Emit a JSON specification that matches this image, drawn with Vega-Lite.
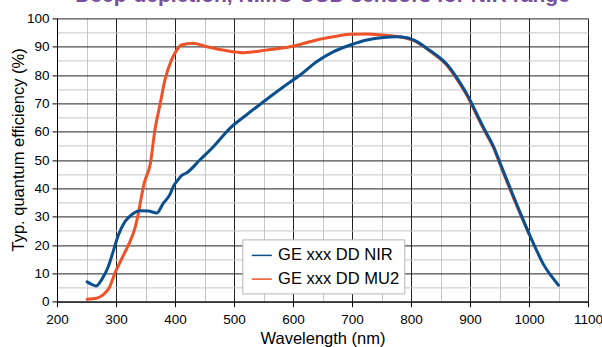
{
  "$schema": "https://vega.github.io/schema/vega-lite/v6.json",
  "width": 531,
  "height": 283.3,
  "autosize": {"type": "none"},
  "padding": {"left": 57, "top": 18.4, "right": 14, "bottom": 45.3},
  "background": "white",
  "title": {
    "text": "Deep-depletion, NIMO CCD sensors for NIR range",
    "font": "Liberation Sans",
    "fontSize": 21,
    "fontWeight": "bold",
    "color": "#7A4E9E",
    "anchor": "middle",
    "frame": "group",
    "baseline": "alphabetic",
    "offset": -12
  },
  "data": {
    "values": [
      {"series": "GE xxx DD NIR", "wavelength": 251, "qe": 7.0},
      {"series": "GE xxx DD NIR", "wavelength": 258, "qe": 6.2},
      {"series": "GE xxx DD NIR", "wavelength": 266, "qe": 5.5},
      {"series": "GE xxx DD NIR", "wavelength": 276, "qe": 7.9},
      {"series": "GE xxx DD NIR", "wavelength": 287, "qe": 12.4},
      {"series": "GE xxx DD NIR", "wavelength": 295, "qe": 17.6},
      {"series": "GE xxx DD NIR", "wavelength": 304, "qe": 23.5},
      {"series": "GE xxx DD NIR", "wavelength": 315, "qe": 28.2},
      {"series": "GE xxx DD NIR", "wavelength": 327, "qe": 30.8},
      {"series": "GE xxx DD NIR", "wavelength": 341, "qe": 32.1},
      {"series": "GE xxx DD NIR", "wavelength": 355, "qe": 32.0},
      {"series": "GE xxx DD NIR", "wavelength": 369, "qe": 31.3},
      {"series": "GE xxx DD NIR", "wavelength": 380, "qe": 34.7},
      {"series": "GE xxx DD NIR", "wavelength": 391, "qe": 37.7},
      {"series": "GE xxx DD NIR", "wavelength": 397, "qe": 40.6},
      {"series": "GE xxx DD NIR", "wavelength": 405, "qe": 43.0},
      {"series": "GE xxx DD NIR", "wavelength": 411, "qe": 44.5},
      {"series": "GE xxx DD NIR", "wavelength": 420, "qe": 45.5},
      {"series": "GE xxx DD NIR", "wavelength": 442, "qe": 50.0},
      {"series": "GE xxx DD NIR", "wavelength": 465, "qe": 54.7},
      {"series": "GE xxx DD NIR", "wavelength": 493, "qe": 61.2},
      {"series": "GE xxx DD NIR", "wavelength": 521, "qe": 65.9},
      {"series": "GE xxx DD NIR", "wavelength": 550, "qe": 70.6},
      {"series": "GE xxx DD NIR", "wavelength": 584, "qe": 75.9},
      {"series": "GE xxx DD NIR", "wavelength": 612, "qe": 80.0},
      {"series": "GE xxx DD NIR", "wavelength": 640, "qe": 84.7},
      {"series": "GE xxx DD NIR", "wavelength": 668, "qe": 88.2},
      {"series": "GE xxx DD NIR", "wavelength": 697, "qe": 90.6},
      {"series": "GE xxx DD NIR", "wavelength": 725, "qe": 92.4},
      {"series": "GE xxx DD NIR", "wavelength": 753, "qe": 93.3},
      {"series": "GE xxx DD NIR", "wavelength": 776, "qe": 93.5},
      {"series": "GE xxx DD NIR", "wavelength": 793, "qe": 93.2},
      {"series": "GE xxx DD NIR", "wavelength": 810, "qe": 91.8},
      {"series": "GE xxx DD NIR", "wavelength": 827, "qe": 89.4},
      {"series": "GE xxx DD NIR", "wavelength": 842, "qe": 87.2},
      {"series": "GE xxx DD NIR", "wavelength": 860, "qe": 84.0},
      {"series": "GE xxx DD NIR", "wavelength": 880, "qe": 78.3},
      {"series": "GE xxx DD NIR", "wavelength": 897, "qe": 72.4},
      {"series": "GE xxx DD NIR", "wavelength": 911, "qe": 66.5},
      {"series": "GE xxx DD NIR", "wavelength": 925, "qe": 60.6},
      {"series": "GE xxx DD NIR", "wavelength": 940, "qe": 54.7},
      {"series": "GE xxx DD NIR", "wavelength": 951, "qe": 48.9},
      {"series": "GE xxx DD NIR", "wavelength": 975, "qe": 36.5},
      {"series": "GE xxx DD NIR", "wavelength": 1000, "qe": 24.0},
      {"series": "GE xxx DD NIR", "wavelength": 1012, "qe": 18.5},
      {"series": "GE xxx DD NIR", "wavelength": 1025, "qe": 13.0},
      {"series": "GE xxx DD NIR", "wavelength": 1038, "qe": 9.0},
      {"series": "GE xxx DD NIR", "wavelength": 1050, "qe": 5.8},
      {"series": "GE xxx DD MU2", "wavelength": 251, "qe": 0.9},
      {"series": "GE xxx DD MU2", "wavelength": 267, "qe": 1.2},
      {"series": "GE xxx DD MU2", "wavelength": 278, "qe": 2.4},
      {"series": "GE xxx DD MU2", "wavelength": 289, "qe": 5.1},
      {"series": "GE xxx DD MU2", "wavelength": 298, "qe": 10.0},
      {"series": "GE xxx DD MU2", "wavelength": 310, "qe": 15.3},
      {"series": "GE xxx DD MU2", "wavelength": 321, "qe": 20.0},
      {"series": "GE xxx DD MU2", "wavelength": 332, "qe": 25.9},
      {"series": "GE xxx DD MU2", "wavelength": 338, "qe": 31.2},
      {"series": "GE xxx DD MU2", "wavelength": 342, "qe": 35.9},
      {"series": "GE xxx DD MU2", "wavelength": 348, "qe": 42.0},
      {"series": "GE xxx DD MU2", "wavelength": 358, "qe": 48.5},
      {"series": "GE xxx DD MU2", "wavelength": 366, "qe": 60.6},
      {"series": "GE xxx DD MU2", "wavelength": 375, "qe": 70.0},
      {"series": "GE xxx DD MU2", "wavelength": 383, "qe": 78.3},
      {"series": "GE xxx DD MU2", "wavelength": 394, "qe": 85.3},
      {"series": "GE xxx DD MU2", "wavelength": 403, "qe": 88.8},
      {"series": "GE xxx DD MU2", "wavelength": 411, "qe": 90.6},
      {"series": "GE xxx DD MU2", "wavelength": 430, "qe": 91.2},
      {"series": "GE xxx DD MU2", "wavelength": 454, "qe": 90.0},
      {"series": "GE xxx DD MU2", "wavelength": 488, "qe": 88.6},
      {"series": "GE xxx DD MU2", "wavelength": 516, "qe": 87.9},
      {"series": "GE xxx DD MU2", "wavelength": 555, "qe": 88.8},
      {"series": "GE xxx DD MU2", "wavelength": 595, "qe": 90.0},
      {"series": "GE xxx DD MU2", "wavelength": 612, "qe": 90.8},
      {"series": "GE xxx DD MU2", "wavelength": 640, "qe": 92.4},
      {"series": "GE xxx DD MU2", "wavelength": 668, "qe": 93.5},
      {"series": "GE xxx DD MU2", "wavelength": 697, "qe": 94.4},
      {"series": "GE xxx DD MU2", "wavelength": 725, "qe": 94.5},
      {"series": "GE xxx DD MU2", "wavelength": 753, "qe": 94.1},
      {"series": "GE xxx DD MU2", "wavelength": 781, "qe": 93.5},
      {"series": "GE xxx DD MU2", "wavelength": 804, "qe": 92.2},
      {"series": "GE xxx DD MU2", "wavelength": 821, "qe": 90.2},
      {"series": "GE xxx DD MU2", "wavelength": 838, "qe": 87.5},
      {"series": "GE xxx DD MU2", "wavelength": 860, "qe": 83.6},
      {"series": "GE xxx DD MU2", "wavelength": 880, "qe": 77.8},
      {"series": "GE xxx DD MU2", "wavelength": 897, "qe": 72.0},
      {"series": "GE xxx DD MU2", "wavelength": 911, "qe": 66.0},
      {"series": "GE xxx DD MU2", "wavelength": 925, "qe": 60.2},
      {"series": "GE xxx DD MU2", "wavelength": 940, "qe": 54.3},
      {"series": "GE xxx DD MU2", "wavelength": 951, "qe": 48.5},
      {"series": "GE xxx DD MU2", "wavelength": 975, "qe": 36.0},
      {"series": "GE xxx DD MU2", "wavelength": 1000, "qe": 24.0}
    ]
  },
  "encoding": {
    "x": {
      "field": "wavelength",
      "type": "quantitative",
      "scale": {"domain": [200, 1100], "nice": false, "zero": false},
      "axis": {
        "title": "Wavelength (nm)",
        "titleFont": "Liberation Sans",
        "titleFontSize": 16.5,
        "titleFontWeight": "normal",
        "titleColor": "#000000",
        "titleY": 42.3,
        "titleBaseline": "alphabetic",
        "values": [200, 250, 300, 350, 400, 450, 500, 550, 600, 650, 700, 750, 800, 850, 900, 950, 1000, 1050, 1100],
        "format": "d",
        "labelExpr": "datum.value % 100 === 0 ? datum.label : ''",
        "labelFont": "Liberation Sans",
        "labelFontSize": 13.5,
        "labelColor": "#000000",
        "labelPadding": 6,
        "labelFlush": false,
        "labelOverlap": false,
        "domainColor": "#000000",
        "domainWidth": 1,
        "tickSize": 5,
        "tickColor": "#000000",
        "tickOpacity": {"condition": {"test": "datum.value % 100 === 0", "value": 1}, "value": 0},
        "grid": true,
        "gridColor": {"condition": {"test": "datum.value % 100 === 0", "value": "#222222"}, "value": "#c6c6c6"},
        "gridWidth": 1,
        "gridOpacity": 1
      }
    },
    "y": {
      "field": "qe",
      "type": "quantitative",
      "scale": {"domain": [0, 100], "nice": false},
      "axis": {
        "title": "Typ. quantum efficiency (%)",
        "titleFont": "Liberation Sans",
        "titleFontSize": 16.5,
        "titleFontWeight": "normal",
        "titleColor": "#000000",
        "titleX": -34,
        "titleY": 131,
        "titleBaseline": "alphabetic",
        "values": [0, 5, 10, 15, 20, 25, 30, 35, 40, 45, 50, 55, 60, 65, 70, 75, 80, 85, 90, 95, 100],
        "format": "d",
        "labelExpr": "datum.value % 10 === 0 ? datum.label : ''",
        "labelFont": "Liberation Sans",
        "labelFontSize": 13.5,
        "labelColor": "#000000",
        "labelPadding": 3,
        "labelFlush": false,
        "labelOverlap": false,
        "domainColor": "#000000",
        "domainWidth": 1,
        "tickSize": 5,
        "tickColor": "#000000",
        "tickOpacity": {"condition": {"test": "datum.value % 10 === 0", "value": 1}, "value": 0},
        "grid": true,
        "gridColor": {"condition": {"test": "datum.value % 10 === 0", "value": "#222222"}, "value": "#c6c6c6"},
        "gridWidth": 1,
        "gridOpacity": 1
      }
    },
    "color": {
      "field": "series",
      "type": "nominal",
      "scale": {"domain": ["GE xxx DD NIR", "GE xxx DD MU2"], "range": ["#0B4F8E", "#EE5228"]},
      "legend": {
        "title": null,
        "orient": "none",
        "legendX": 185.3,
        "legendY": 221,
        "symbolType": "stroke",
        "symbolSize": 400,
        "symbolStrokeWidth": 1.5,
        "symbolOffset": 3.5,
        "labelFont": "Liberation Sans",
        "labelFontSize": 16.5,
        "labelColor": "#000000",
        "labelOffset": 5.3,
        "padding": 5,
        "rowPadding": 3.7,
        "strokeColor": "#b4b4b4",
        "fillColor": "#ffffff",
        "cornerRadius": 0
      }
    }
  },
  "layer": [
    {
      "transform": [{"filter": {"field": "series", "equal": "GE xxx DD MU2"}}],
      "mark": {"type": "line", "strokeWidth": 3, "interpolate": "monotone", "strokeCap": "round", "strokeJoin": "round"}
    },
    {
      "transform": [{"filter": {"field": "series", "equal": "GE xxx DD NIR"}}],
      "mark": {"type": "line", "strokeWidth": 3, "interpolate": "monotone", "strokeCap": "round", "strokeJoin": "round"}
    }
  ],
  "config": {
    "view": {"stroke": null},
    "font": "Liberation Sans"
  }
}
